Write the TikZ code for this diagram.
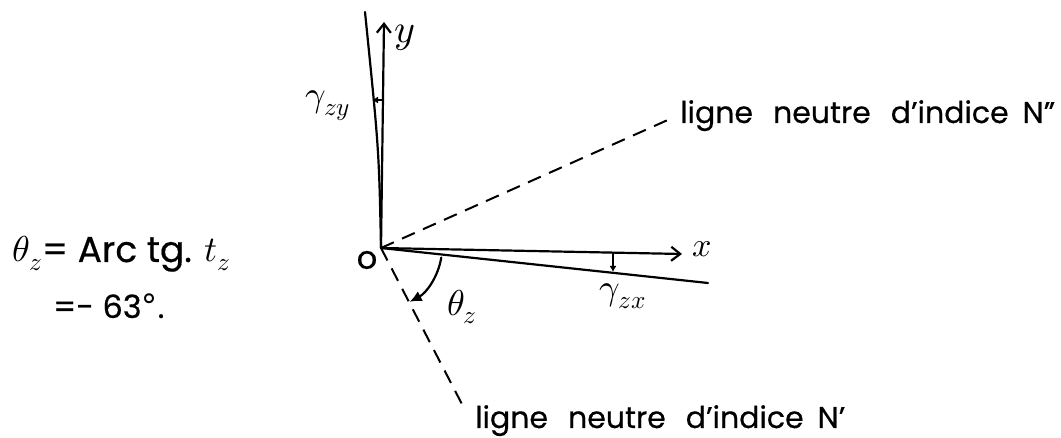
\documentclass[tikz,border=0pt]{standalone}
\usepackage{fontspec}
\usepackage{unicode-math}
\setmainfont{Poppins}[UprightFeatures={FakeBold=0.5}]
\setmathfont{Latin Modern Math}
\newfontfamily\degfont{DejaVu Sans}
\usetikzlibrary{arrows.meta,calc}
\begin{document}
\begin{tikzpicture}[x=1pt,y=-1pt,
  stroke/.style={line width=2.2pt, line cap=round, black},
  axis/.style={stroke, -{Straight Barb[length=9pt,width=14pt,line width=2.2pt]}},
  tick/.style={line width=1.6pt, -{Latex[length=6pt,width=7pt]}},
  neutral/.style={line width=2pt, dash pattern=on 14pt off 9pt},
  lbl/.style={inner sep=0pt, font=\fontsize{26}{28}\selectfont},
  txt/.style={inner sep=0pt, anchor=base west, font=\fontsize{30}{32}\selectfont}]
\useasboundingbox (0,0) rectangle (1061,438);
% points
\coordinate (O) at (381,248);
\coordinate (Yt) at (384,22);
\coordinate (Xt) at (682,254);
\coordinate (Yd) at (365,12);
\coordinate (Xd) at (708,283);
\coordinate (Nu) at (670,119);
\coordinate (Nd) at (465,410);
\coordinate (ya) at (382,100);
\coordinate (yb) at (372,100);
\coordinate (xa) at (613,253.5);
\coordinate (xb) at (613,272);
\coordinate (A1) at ($(O)+(9:61)$);
% axes
\draw[axis] (O) -- (Yt);
\draw[axis] (O) -- (Xt);
% deformed lines
\draw[stroke] (O) .. controls (379,150) .. (Yd);
\draw[stroke] (O) -- (Xd);
% neutral lines
\draw[neutral] (O) -- (Nu);
\draw[neutral] (O) -- (Nd);
% small strain arrows
\draw[tick] (ya) -- (yb);
\draw[tick] (xa) -- (xb);
% angle arc
\draw[stroke, -{Latex[length=12pt,width=11pt]}] (A1) arc[start angle=9, end angle=62, radius=61];
% labels
\node[lbl, font=\fontsize{32}{34}\selectfont] (olab) at (367,260) {o};
\node[lbl, font=\fontsize{40}{42}\selectfont] (ylab) at (405,38) {$y$};
\node[lbl, font=\fontsize{34}{36}\selectfont] (xlab) at (702,249) {$x$};
\node[lbl, font=\fontsize{36}{38}\selectfont] (gzy) at (328,106) {$\gamma_{zy}$};
\node[lbl, font=\fontsize{36}{38}\selectfont] (gzx) at (623,296) {$\gamma_{zx}$};
\node[lbl, font=\fontsize{36}{38}\selectfont] (thz) at (462,307) {$\theta_{z}$};
\node[txt] (nup) at (680,123) {ligne\hspace{12pt} neutre\hspace{12pt} d'indice\hspace{6pt} N''};
\node[txt] (ndown) at (475,428) {ligne\hspace{12pt} neutre\hspace{12pt} d'indice\hspace{6pt} N'};
\node[txt, font=\fontsize{36}{38}\selectfont] (def) at (12,262) {$\theta_z$= Arc tg. $t_z$};
\node[txt, font=\fontsize{32}{34}\selectfont] (val) at (53,318) {=- 63{\degfont °}.};
\end{tikzpicture}
\end{document}
